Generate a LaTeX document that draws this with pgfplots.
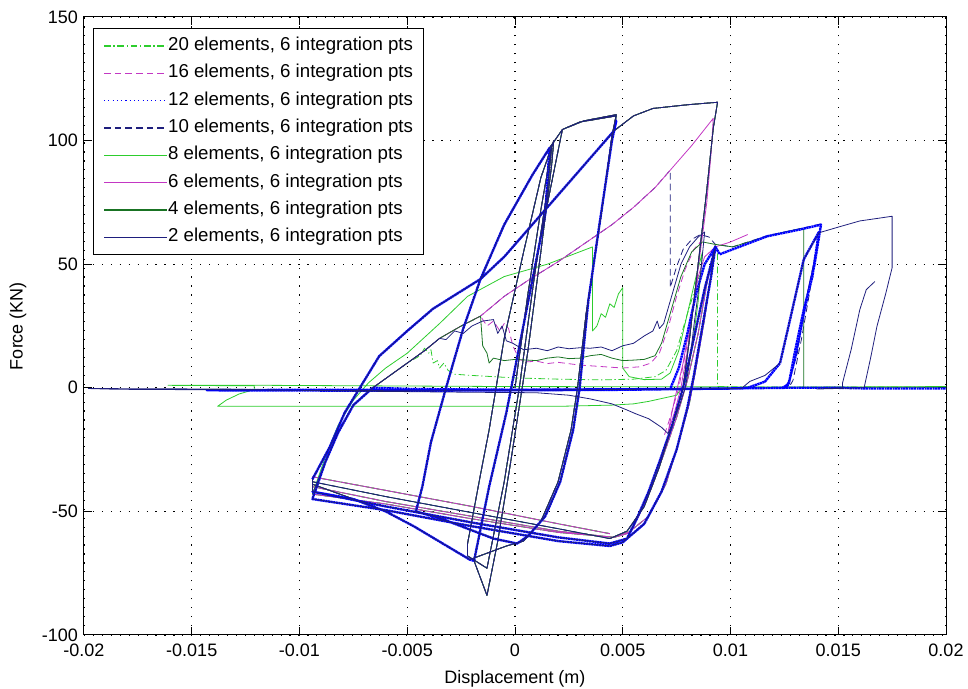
\documentclass[border=0pt]{standalone}
\usepackage{fontspec}
\setmainfont{Liberation Sans}
\usepackage{pgfplots}
\usepackage{pgfplotstable}
\pgfplotsset{compat=1.18}

\definecolor{cGreen}{RGB}{45,205,45}
\definecolor{cMag}{RGB}{195,55,195}
\definecolor{cBlue}{RGB}{0,0,255}
\definecolor{cNavy}{RGB}{30,30,125}
\definecolor{cDkGreen}{RGB}{25,115,35}

% shared early cycles: small cycles, intermediate loop, first large cycle
\pgfplotstableread[row sep=\\]{
x y\\
0 0\\ 0.0006 38\\ 0.0012 72\\ 0.0017 97\\ 0.0015 80\\ 0.0009 45\\ 0.0002 0\\ -0.0005 -38\\ -0.0013 -73\\ -0.0022 -68\\ -0.0022 -63\\ -0.0016 -35\\ -0.0012 -17\\ -0.0005 20\\ 0.0004 55\\ 0.0012 85\\ 0.0018 100\\ 0.0017 90\\ 0.0012 55\\ 0.0006 15\\ -0.0002 -30\\ -0.0008 -62\\ -0.0013 -84\\ -0.0016 -77\\ -0.0019 -70\\ -0.0012 -40\\ -0.0004 -10\\ 0.0005 30\\ 0.0014 70\\ 0.0022 104.5\\
0.0030 107.5\\ 0.0047 110\\ 0.0045 100\\ 0.0039 65\\ 0.0034 35\\ 0.0030 0\\ 0.0027 -17\\ 0.0021 -38\\ 0.0014 -52\\ 0.0006 -60\\ 0.0001 -63\\ -0.0010 -61\\ -0.0022 -57\\ -0.0034 -53\\ -0.0046 -50\\ -0.0043 -40\\ -0.0039 -22\\ -0.0032 0\\ -0.0024 24\\ -0.0016 44\\ -0.0005 66\\ 0.0008 86\\ 0.0016 97\\ 0.0022 104.5\\ 0.0032 108\\ 0.0047 110.5\\ 0.0045 102\\ 0.0040 70\\ 0.0033 30\\ 0.0029 0\\ 0.0026 -17\\ 0.0020 -38\\ 0.0012 -54\\ 0.0004 -62\\ -0.0004 -64\\ -0.0021 -69.5\\ -0.0047 -56\\ -0.0060 -50\\ -0.0075 -45\\ -0.0094 -39\\
-0.0094 -37\\ -0.0086 -24\\ -0.0079 -10\\ -0.0072 0\\ -0.0063 12.8\\ -0.0050 23\\ -0.0038 32\\ -0.0027 38\\ -0.0016 44\\ -0.0005 53\\ 0.0010 68\\ 0.0030 88\\ 0.0046 104\\ 0.0055 110\\ 0.0064 113\\ 0.0080 114.5\\ 0.0094 115.5\\ 0.0092 105\\ 0.0089 80\\ 0.0085 50\\ 0.0081 20\\ 0.0078 0\\ 0.0073 -15\\ 0.0067 -32\\ 0.0060 -48\\ 0.0052 -58\\ 0.0044 -61\\
}\cycles

% negative-force branches, variant A
\pgfplotstableread[row sep=\\]{
x y\\
0.0044 -61\\ 0.0020 -57\\ -0.0020 -50.5\\ -0.0060 -44\\ -0.0094 -38\\ -0.0094 -42\\ -0.0060 -48\\ -0.0020 -54.5\\ 0.0020 -60.5\\ 0.0044 -63\\ 0.0052 -61\\ 0.0057 -52\\ 0.0062 -42\\ 0.0067 -30\\ 0.0073 -15\\ 0.0078 0\\ 0.0083 20\\ 0.0088 40\\ 0.0093 57\\ 0.0091 45\\ 0.0087 25\\ 0.0083 5\\ 0.0080 -8\\ 0.0075 -25\\ 0.0068 -42\\ 0.0060 -55\\ 0.0050 -62.5\\ 0.0044 -64\\ 0.0020 -62\\ -0.0020 -56\\ -0.0060 -49.5\\ -0.0094 -45\\
}\edgesA

% negative-force branches, variant B
\pgfplotstableread[row sep=\\]{
x y\\
0.0044 -59\\ 0.0020 -55\\ -0.0020 -48\\ -0.0060 -41.5\\ -0.0094 -36\\ -0.0094 -40\\ -0.0060 -46\\ -0.0020 -52\\ 0.0020 -58\\ 0.0046 -60.5\\ 0.0054 -58\\ 0.0059 -49\\ 0.0064 -39\\ 0.0069 -27\\ 0.0075 -12\\ 0.0080 3\\ 0.0085 22\\ 0.0089 42\\ 0.0093 58\\ 0.0091 46\\ 0.0088 28\\ 0.0084 8\\ 0.0081 -6\\ 0.0076 -22\\ 0.0070 -39\\ 0.0062 -52\\ 0.0052 -59\\ 0.0046 -60.5\\ 0.0020 -58.5\\ -0.0020 -53\\ -0.0060 -47\\ -0.0094 -43\\
}\edgesB

% 20 elements
\pgfplotstableread[row sep=\\]{
x y\\
-0.0094 -43\\ -0.0088 -30\\ -0.0082 -18\\ -0.0075 -7\\ -0.0066 0\\ -0.0058 5\\ -0.0050 10\\ -0.0044 13\\ -0.0042 16\\ -0.0040 14\\ -0.0039 15.4\\ -0.0038 10\\ -0.0036 11\\ -0.0035 8\\ -0.0033 10\\ -0.0031 7\\ -0.0028 5.5\\ -0.0020 5\\ -0.0010 4.5\\ 0 4\\ 0.0020 3.5\\ 0.0040 3.2\\ 0.0055 3.5\\ 0.0065 4.5\\ 0.0070 7\\ 0.0075 15\\ 0.0080 30\\ 0.0085 44\\ 0.0090 53\\ 0.0094 56\\ 0.0094 30\\ 0.0094 0.5\\ 0.0120 0.3\\ 0.0200 0.3\\
}\tailA

% 16 elements
\pgfplotstableread[row sep=\\]{
x y\\
-0.0094 -43\\ -0.0088 -30\\ -0.0082 -18\\ -0.0075 -7\\ -0.0066 0\\ -0.0058 5\\ -0.0050 10\\ -0.0042 15\\ -0.0035 20\\ -0.0025 25\\ -0.0016 29\\ -0.0013 25\\ -0.0010 27\\ -0.0007 23\\ -0.0005 26\\ -0.0003 24\\ -0.0001 17\\ 0.0002 11.4\\ 0.0006 10.5\\ 0.0010 10.8\\ 0.0015 9.8\\ 0.0020 10.3\\ 0.0030 9.2\\ 0.0040 8.6\\ 0.0050 8\\ 0.0058 8.5\\ 0.0063 10\\ 0.0067 14\\ 0.0071 24\\ 0.0075 37\\ 0.0079 48\\ 0.0083 56\\ 0.0086 59\\ 0.0084 40\\ 0.0080 18\\ 0.0076 0\\ 0.0072 -12\\ 0.0069 -20\\
}\tailB

% 12 elements: whole trace
\pgfplotstableread[row sep=\\]{
x y\\
-0.0094 -37\\ -0.0086 -24\\ -0.0079 -10\\ -0.0072 0\\ -0.0063 12.8\\ -0.0050 23\\ -0.0038 32\\ -0.0027 38\\ -0.0016 44\\ -0.0005 53\\ 0.0010 68\\ 0.0030 88\\ 0.0046 104\\ 0.0047 108\\ 0.0045 100\\ 0.0039 65\\ 0.0034 35\\ 0.0030 0\\ 0.0027 -17\\ 0.0021 -38\\ 0.0014 -52\\ 0.0006 -60\\ 0.0001 -63\\ -0.0010 -61\\ -0.0022 -57\\ -0.0034 -53\\ -0.0046 -50\\ -0.0043 -40\\ -0.0039 -22\\ -0.0032 0\\ -0.0024 24\\ -0.0016 44\\ -0.0005 66\\ 0.0008 86\\ 0.0016 97\\ 0.0014 70\\ 0.0005 30\\ -0.0004 -10\\ -0.0012 -40\\ -0.0019 -70\\ -0.0021 -69.5\\ -0.0047 -56\\ -0.0060 -50\\ -0.0075 -45\\ -0.0094 -42\\
-0.0060 -48\\ -0.0020 -54.5\\ 0.0020 -60.5\\ 0.0044 -63\\ 0.0052 -61\\ 0.0057 -52\\ 0.0062 -42\\ 0.0067 -30\\ 0.0073 -15\\ 0.0078 0\\ 0.0083 20\\ 0.0088 40\\ 0.0093 57\\ 0.0091 45\\ 0.0087 25\\ 0.0083 5\\ 0.0080 -8\\ 0.0075 -25\\ 0.0068 -42\\ 0.0060 -55\\ 0.0050 -62.5\\ 0.0044 -64\\ 0.0020 -62\\ -0.0020 -56\\ -0.0060 -49.5\\ -0.0094 -45\\
-0.0088 -30\\ -0.0082 -18\\ -0.0075 -7\\ -0.0066 0\\ -0.0048 -0.5\\ 0 -0.8\\ 0.0072 -0.5\\ 0.0076 8\\ 0.0080 22\\ 0.0084 38\\ 0.0088 50\\ 0.0093 57\\ 0.0095 54\\ 0.0101 56\\ 0.0117 61.3\\ 0.0132 64\\ 0.0142 66\\ 0.0139 50\\ 0.0134 30\\ 0.0130 12\\ 0.0127 2\\ 0.0125 0\\ 0.0050 -0.8\\ -0.0050 -1.2\\ -0.0143 -1\\ -0.0100 -0.8\\ 0 -1\\ 0.0100 -0.3\\ 0.0108 0\\ 0.0116 2.5\\ 0.0123 10\\ 0.0128 29\\ 0.0134 52\\ 0.0141 63\\ 0.0138 45\\ 0.0134 31.6\\ 0.0130 15\\ 0.0127 1.3\\ 0.0124 0\\ 0.0150 0\\ 0.0165 -0.3\\ 0.0200 -0.3\\
}\blueTrace

% 10 elements
\pgfplotstableread[row sep=\\]{
x y\\
-0.0094 -45\\ -0.0088 -30\\ -0.0082 -18\\ -0.0075 -7\\ -0.0066 0\\ -0.0058 5\\ -0.0050 10\\ -0.0042 15\\ -0.0035 20\\ -0.0025 25\\ -0.0016 29\\ -0.0005 37\\ 0.0007 44\\ 0.0020 51\\ 0.0035 60\\ 0.0045 66\\ 0.0055 73\\ 0.0065 81\\ 0.0072 88\\ 0.0072 60\\ 0.0072 40.5\\ 0.0075 49\\ 0.0078 56\\ 0.0082 60\\ 0.0086 62\\ 0.0090 61\\ 0.0093 58\\ 0.0101 57\\ 0.0117 61.5\\ 0.0132 64.3\\ 0.0142 66.3\\ 0.0140 55\\ 0.0136 40\\ 0.0132 20\\ 0.0128 5\\ 0.0126 0\\ 0.0050 -0.6\\ -0.0050 -1\\ -0.0140 -0.8\\ 0 -0.6\\ 0.0126 0\\ 0.0131 14\\ 0.0134 31.6\\ 0.0138 48\\ 0.0141 61.3\\ 0.0137 40\\ 0.0133 20\\ 0.0129 3\\ 0.0127 0\\ 0.0150 0.2\\ 0.0163 0\\
}\tailD

% 8 elements
\pgfplotstableread[row sep=\\]{
x y\\
-0.0094 -43\\ -0.0088 -28\\ -0.0082 -15\\ -0.0075 -5\\ -0.0068 2\\ -0.0060 8\\ -0.0050 14\\ -0.0035 26\\ -0.0022 37\\ -0.0005 45\\ 0.0015 50\\ 0.0036 57\\ 0.0036 40\\ 0.0036 23\\ 0.0038 25\\ 0.0040 30\\ 0.0042 28.5\\ 0.0044 34\\ 0.0046 32.5\\ 0.0048 38\\ 0.0050 40.5\\ 0.0050 20\\ 0.0050 8\\ 0.0053 4.5\\ 0.0060 3.3\\ 0.0068 3.5\\ 0.0072 6\\ 0.0076 15\\ 0.0080 30\\ 0.0084 45\\ 0.0087 55\\ 0.0085 35\\ 0.0082 15\\ 0.0079 2\\ 0.0075 -3\\ 0.0062 -5.5\\ 0.0055 -6.5\\ 0.0045 -7\\ 0.0020 -7.5\\ -0.0050 -7.5\\ -0.0138 -7.5\\ -0.0134 -5\\ -0.0128 -2.5\\ -0.0121 -0.7\\ -0.0121 0.8\\ -0.0161 1\\ -0.0115 1\\ 0 0.5\\ 0.0145 0.3\\ 0.0200 0.5\\
}\tailE

% 6 elements
\pgfplotstableread[row sep=\\]{
x y\\
-0.0094 -43\\ -0.0088 -30\\ -0.0082 -18\\ -0.0075 -7\\ -0.0066 0\\ -0.0058 5\\ -0.0050 10\\ -0.0042 15\\ -0.0035 20\\ -0.0025 25\\ -0.0016 29\\ -0.0005 37\\ 0.0007 44\\ 0.0020 51\\ 0.0035 60\\ 0.0045 66\\ 0.0055 73\\ 0.0065 81\\ 0.0072 88\\ 0.0082 98\\ 0.0092 109\\ 0.0091 95\\ 0.0089 75\\ 0.0086 55\\ 0.0083 35\\ 0.0080 15\\ 0.0077 0\\ 0.0074 -10\\ 0.0071 -18\\ 0.0074 -5\\ 0.0078 10\\ 0.0082 30\\ 0.0085 45\\ 0.0088 53\\ 0.0093 57\\ 0.0100 59\\ 0.0108 62\\
}\tailF

% 4 elements
\pgfplotstableread[row sep=\\]{
x y\\
-0.0094 -43\\ -0.0088 -30\\ -0.0082 -18\\ -0.0075 -7\\ -0.0066 0\\ -0.0058 5\\ -0.0050 10\\ -0.0042 15\\ -0.0035 20\\ -0.0025 25\\ -0.0016 29\\ -0.0015 17\\ -0.0013 14\\ -0.0012 10\\ -0.0010 12\\ -0.0005 11\\ 0 11.5\\ 0.0010 11\\ 0.0015 12\\ 0.0020 12.5\\ 0.0025 11.8\\ 0.0030 12\\ 0.0035 13\\ 0.0040 13.5\\ 0.0045 12\\ 0.0050 11\\ 0.0055 11.2\\ 0.0060 11.5\\ 0.0065 13\\ 0.0068 18\\ 0.0072 30\\ 0.0077 45\\ 0.0082 55\\ 0.0087 59\\ 0.0093 58\\ 0.0101 57\\ 0.0117 61.3\\ 0.0125 63\\ 0.0133 64.5\\ 0.0134 64\\ 0.0134 0\\ 0.0145 0.2\\ 0.0200 0.2\\
}\tailG

% 2 elements
\pgfplotstableread[row sep=\\]{
x y\\
-0.0094 -45\\ -0.0088 -30\\ -0.0082 -18\\ -0.0075 -7\\ -0.0066 0\\ -0.0058 5\\ -0.0050 10\\ -0.0042 15\\ -0.0035 20\\ -0.0032 19.5\\ -0.0028 23\\ -0.0024 22\\ -0.0020 25\\ -0.0015 27\\ -0.0010 27.6\\ -0.0008 22\\ -0.0006 25\\ -0.0004 19\\ -0.0001 18\\ 0.0004 15.4\\ 0.0010 16\\ 0.0015 15\\ 0.0020 16.5\\ 0.0025 15.8\\ 0.0030 16.2\\ 0.0035 16\\ 0.0040 16.5\\ 0.0045 15\\ 0.0050 17\\ 0.0055 18\\ 0.0060 21\\ 0.0064 23\\ 0.0066 27\\ 0.0067 24\\ 0.0069 26\\ 0.0073 38\\ 0.0077 50\\ 0.0081 57\\ 0.0085 61\\ 0.0088 63\\ 0.0086 45\\ 0.0083 25\\ 0.0081 10\\ 0.0079 0\\ 0.0076 -8\\ 0.0073 -15\\ 0.0071 -18.5\\ 0.0068 -16\\ 0.0062 -12.5\\ 0.0056 -10.5\\ 0.0052 -9\\ 0.0045 -6.5\\ 0.0035 -4.5\\ 0.0025 -3\\ 0.0010 -2\\ -0.0020 -1.8\\ -0.0080 -1.3\\ -0.0135 -0.5\\ -0.0198 -0.3\\ -0.0185 -0.6\\ -0.0100 -1\\ 0 -1\\ 0.0105 -0.3\\ 0.0109 2.6\\ 0.0116 5\\ 0.0123 10\\ 0.0128 29\\ 0.0134 52\\ 0.0141 62.7\\ 0.0150 65\\ 0.0160 67.5\\ 0.0168 68.5\\ 0.0175 69.4\\ 0.0175 60\\ 0.0175 48.6\\ 0.0172 38\\ 0.0168 25\\ 0.0165 12\\ 0.0162 0\\ 0.0140 -0.5\\ 0.0152 0\\ 0.0152 2\\ 0.0156 15.5\\ 0.0160 31.6\\ 0.0163 39.7\\ 0.0167 43\\
}\tailH

\begin{document}
\begin{tikzpicture}
\path[use as bounding box] (-63pt,-40.5pt) rectangle (663pt,476.25pt);
\begin{axis}[
  scale only axis, width=646.5pt, height=463.5pt,
  at={(0,0)}, anchor=south west,
  xmin=-0.02, xmax=0.02, ymin=-100, ymax=150,
  scaled x ticks=false, scaled y ticks=false,
  xtick={-0.02,-0.015,-0.01,-0.005,0,0.005,0.01,0.015,0.02},
  xticklabels={-0.02,-0.015,-0.01,-0.005,0,0.005,0.01,0.015,0.02},
  ytick={-100,-50,0,50,100,150},
  yticklabels={-100,-50,0,50,100,150},
  tick align=inside, major tick length=6pt,
  xtick pos=both, ytick pos=both,
  tick style={black, line width=0.75pt},
  axis line style={black, line width=0.75pt},
  grid=major,
  grid style={black, line width=0.8pt, dash pattern=on 0.9pt off 5.8pt},
  ticklabel style={font=\fontsize{13.5}{15}\selectfont},
  xticklabel style={yshift=-3.5pt},
  yticklabel style={xshift=-1pt},
  xlabel={Displacement (m)}, ylabel={Force (KN)},
  label style={font=\fontsize{13.5}{15}\selectfont},
  x label style={at={(axis description cs:0.5,-0.0712)}, anchor=center},
  y label style={at={(axis description cs:-0.0766,0.5)}, anchor=center},
  legend cell align=left,
  legend style={at={(axis description cs:0.0104,0.982)}, anchor=north west,
    draw=black, line width=0.75pt, fill=white,
    font=\fontsize{14}{16}\selectfont,
    inner xsep=7.5pt, inner ysep=6pt, row sep=6.5pt,
    nodes={inner sep=0.5pt, text height=10pt, text depth=3pt}},
  legend image code/.code={\draw[#1] (0pt,0pt) -- (47pt,0pt);},
  every axis plot/.append style={line width=0.6pt, line join=round, forget plot},
]
\addlegendimage{draw=cGreen, line width=1pt, dash pattern=on 5pt off 2pt on 1pt off 2pt}
\addlegendentry{20 elements, 6 integration pts}
\addlegendimage{draw=cMag, line width=1pt, dash pattern=on 5pt off 3pt}
\addlegendentry{16 elements, 6 integration pts}
\addlegendimage{draw=cBlue, line width=1pt, dash pattern=on 0.8pt off 2.4pt}
\addlegendentry{12 elements, 6 integration pts}
\addlegendimage{draw=cNavy, line width=1pt, dash pattern=on 5pt off 3pt}
\addlegendentry{10 elements, 6 integration pts}
\addlegendimage{draw=cGreen, line width=1pt}
\addlegendentry{8 elements, 6 integration pts}
\addlegendimage{draw=cMag, line width=1pt}
\addlegendentry{6 elements, 6 integration pts}
\addlegendimage{draw=cDkGreen, line width=1pt}
\addlegendentry{4 elements, 6 integration pts}
\addlegendimage{draw=cNavy, line width=1pt}
\addlegendentry{2 elements, 6 integration pts}
% 20 elements
\addplot[cGreen, dash pattern=on 5pt off 2pt on 1pt off 2pt] table {\cycles};
\addplot[cGreen, dash pattern=on 5pt off 2pt on 1pt off 2pt] table {\edgesB};
\addplot[cGreen, dash pattern=on 5pt off 2pt on 1pt off 2pt] table {\tailA};
% 16 elements
\addplot[cMag, dash pattern=on 5pt off 3pt] table {\cycles};
\addplot[cMag, dash pattern=on 5pt off 3pt] table {\edgesB};
\addplot[cMag, dash pattern=on 5pt off 3pt] table {\tailB};
% 10 elements
\addplot[cNavy, dash pattern=on 5pt off 3pt] table {\cycles};
\addplot[cNavy, dash pattern=on 5pt off 3pt] table {\edgesA};
\addplot[cNavy, dash pattern=on 5pt off 3pt] table {\tailD};
% 8 elements
\addplot[cGreen] table {\cycles};
\addplot[cGreen] table {\edgesB};
\addplot[cGreen] table {\tailE};
% 6 elements
\addplot[cMag] table {\cycles};
\addplot[cMag] table {\edgesB};
\addplot[cMag] table {\tailF};
% 4 elements
\addplot[cDkGreen] table {\cycles};
\addplot[cDkGreen] table {\edgesA};
\addplot[cDkGreen] table {\tailG};
% 12 elements (heavy dotted trace)
\addplot[cBlue, line width=1.8pt, dash pattern=on 1.6pt off 0.4pt] table {\blueTrace};
% 2 elements
\addplot[cNavy] table {\cycles};
\addplot[cNavy] table {\edgesA};
\addplot[cNavy] table {\tailH};
\end{axis}
\end{tikzpicture}
\end{document}
